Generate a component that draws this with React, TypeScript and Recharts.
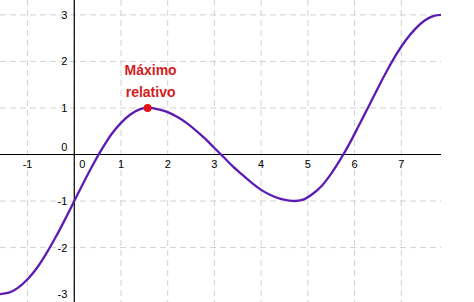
import {
  ComposedChart,
  Line,
  XAxis,
  YAxis,
  CartesianGrid,
  ReferenceLine,
  ReferenceDot,
} from "recharts";

// values
const xs = [
  -1.59, -1.4, -1.2, -1.0, -0.8, -0.6, -0.4, -0.2, 0, 0.2, 0.4, 0.6, 0.8, 1.0, 1.2, 1.4, 1.57,
  1.8, 2.0, 2.2, 2.4, 2.6, 2.8, 3.0, 3.2, 3.4, 3.6, 3.8, 4.0, 4.2, 4.4, 4.6, 4.71,
  4.9, 5.1, 5.3, 5.5, 5.7, 5.9, 6.1, 6.3, 6.5, 6.7, 6.9, 7.1, 7.3, 7.5, 7.7, 7.85,
];
const ys = [
  -3.0, -2.97, -2.86, -2.68, -2.44, -2.13, -1.78, -1.4, -1.0, -0.6, -0.22, 0.13, 0.44, 0.68, 0.86, 0.97, 1.0,
  0.97, 0.91, 0.81, 0.68, 0.52, 0.34, 0.14, -0.06, -0.26, -0.44, -0.61, -0.76, -0.87, -0.95, -0.99, -1.0,
  -0.97, -0.85, -0.67, -0.41, -0.1, 0.25, 0.64, 1.03, 1.43, 1.81, 2.16, 2.46, 2.7, 2.88, 2.98, 3.0,
];

const xTicks = [-1, 0, 1, 2, 3, 4, 5, 6, 7];
const yTicks = [-3, -2, -1, 0, 1, 2, 3];

const maxPoint = { x: 1.57, y: 1 };
const maxLabel = ["Máximo", "relativo"];

const data = xs.map((x, i) => ({ x, y: ys[i] }));

const tickFont = "'Liberation Sans', Arial, sans-serif";

export default function App() {
  return (
    <div style={{ width: 474, height: 302, background: "#fff" }}>
      <style>{"body{margin:0}"}</style>
      <ComposedChart
        width={474}
        height={302}
        data={data}
        margin={{ top: 0, right: 33, bottom: 0, left: 0 }}
      >
        <CartesianGrid
          stroke="#d2d2d2"
          strokeDasharray="6 4"
          horizontalValues={yTicks}
          verticalValues={xTicks}
        />
        <XAxis
          dataKey="x"
          type="number"
          domain={[-1.59, 7.85]}
          ticks={xTicks}
          allowDataOverflow
          hide
        />
        <YAxis
          type="number"
          domain={[-3.17, 3.32]}
          ticks={yTicks}
          allowDataOverflow
          hide
        />

        <ReferenceLine x={0} stroke="#000" strokeWidth={1.2} />
        <ReferenceLine y={0} stroke="#000" strokeWidth={1.2} />

        {xTicks.map((t) => (
          <ReferenceDot
            key={"xt" + t}
            x={t}
            y={0}
            r={1}
            shape={(p: any) => (
              <text
                x={p.cx + (t === 0 ? 8 : 0)}
                y={p.cy + 13.5}
                textAnchor="middle"
                fontSize={11}
                fontFamily={tickFont}
                fill="#000"
              >
                {t}
              </text>
            )}
          />
        ))}

        {yTicks.map((t) => (
          <ReferenceDot
            key={"yt" + t}
            x={0}
            y={t}
            r={1}
            shape={(p: any) => (
              <text
                x={p.cx - 7}
                y={p.cy + (t === 0 ? -3 : 4)}
                textAnchor="end"
                fontSize={11}
                fontFamily={tickFont}
                fill="#000"
              >
                {t}
              </text>
            )}
          />
        ))}

        <Line
          type="monotone"
          dataKey="y"
          stroke="#5c1cb4"
          strokeWidth={2.3}
          dot={false}
          activeDot={false}
          isAnimationActive={false}
        />

        <ReferenceDot
          x={maxPoint.x}
          y={maxPoint.y}
          r={4}
          shape={(p: any) => (
            <g>
              <circle cx={p.cx} cy={p.cy} r={4} fill="#e01414" />
              {maxLabel.map((s, i) => (
                <text
                  key={s}
                  x={p.cx + 3}
                  y={p.cy - 33 + i * 22}
                  textAnchor="middle"
                  fontSize={14}
                  fontWeight="bold"
                  fontFamily={tickFont}
                  fill="#d41c1c"
                >
                  {s}
                </text>
              ))}
            </g>
          )}
        />
      </ComposedChart>
    </div>
  );
}
